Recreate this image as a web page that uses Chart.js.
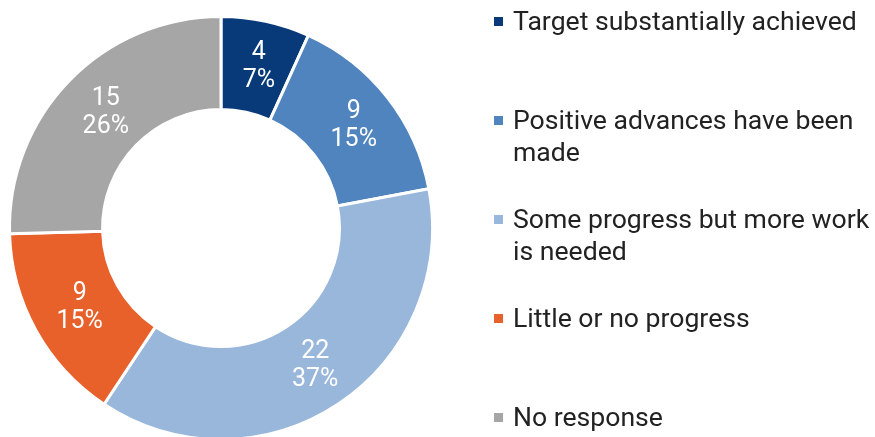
<!DOCTYPE html>
<html>
<head>
<meta charset="utf-8">
<script src="https://cdn.jsdelivr.net/npm/chart.js@4"></script>
<style>
  html, body { margin: 0; padding: 0; background: #fff; }
  body { width: 875px; height: 437px; overflow: hidden; position: relative; font-family: Roboto, sans-serif; }
  #chart-box { position: absolute; left: 0; top: 0; width: 442px; height: 456px; }
  #legend { position: absolute; left: 0; top: 0; width: 875px; height: 437px; }
  .item { position: absolute; left: 513px; font-size: 26.6px; line-height: 32px; color: #222; white-space: nowrap; }
  .swatch { position: absolute; left: -19px; top: 12px; width: 9px; height: 9px; }
</style>
</head>
<body>
<div id="chart-box"><canvas id="donut"></canvas></div>
<div id="legend"></div>
<script>
/*----- data -----*/
const categories = [
  ['Target substantially achieved'],
  ['Positive advances have been', 'made'],
  ['Some progress but more work', 'is needed'],
  ['Little or no progress'],
  ['No response']
]
const counts = [4, 9, 22, 9, 15]
const shares = [7, 15, 37, 15, 26]
const colors = ['#083a7a', '#4f84be', '#99b7db', '#e8602a', '#a6a6a6']

/*----- legend -----*/
const legendBox = document.querySelector('#legend')
categories.forEach((lines, i) => {
  const item = document.createElement('div')
  item.className = 'item'
  item.style.top = (5 + i * 99) + 'px'
  item.innerHTML = '<span class="swatch" style="background:' + colors[i] + '"></span>' + lines.join('<br>')
  legendBox.appendChild(item)
})

/*----- slice labels -----*/
const sliceLabels = {
  id: 'sliceLabels',
  afterDatasetsDraw(chart) {
    const ctx = chart.ctx
    const meta = chart.getDatasetMeta(0)
    ctx.save()
    ctx.fillStyle = '#fff'
    ctx.font = '25px Roboto'
    ctx.textAlign = 'center'
    ctx.textBaseline = 'middle'
    meta.data.forEach((arc, i) => {
      const p = arc.tooltipPosition()
      ctx.fillText(String(counts[i]), p.x + 3, p.y - 14)
      ctx.fillText(shares[i] + '%', p.x + 3, p.y + 14)
    })
    ctx.restore()
  }
}

new Chart(document.getElementById('donut'), {
  type: 'doughnut',
  data: {
    labels: categories,
    datasets: [{
      data: counts,
      backgroundColor: colors,
      borderColor: '#fff',
      borderWidth: 3
    }]
  },
  options: {
    responsive: true,
    maintainAspectRatio: false,
    animation: false,
    cutout: '56%',
    layout: { padding: { top: 15, left: 8, right: 8, bottom: 15 } },
    plugins: {
      legend: { display: false },
      tooltip: { enabled: false }
    }
  },
  plugins: [sliceLabels]
})
</script>
</body>
</html>
